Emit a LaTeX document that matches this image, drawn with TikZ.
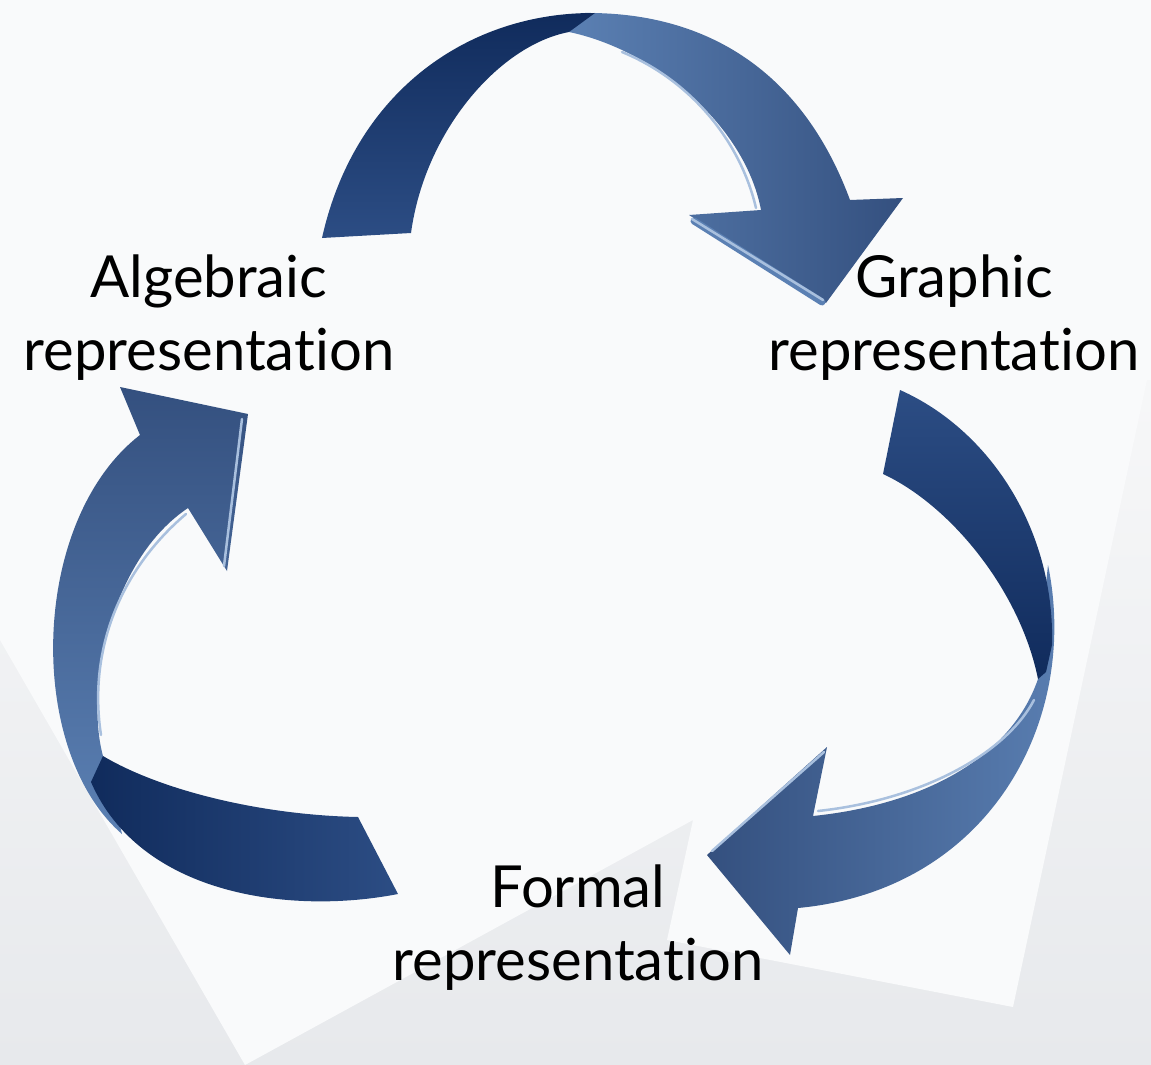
\documentclass[tikz,border=0pt]{standalone}
\usepackage{fontspec}
\setmainfont[Ligatures={NoCommon}]{Lato}
\usepackage{tikz}

\definecolor{ribbondark}{HTML}{102B5C}
\definecolor{ribbonmid}{HTML}{2C4D84}
\definecolor{ribbonlight}{HTML}{5B80B3}
\definecolor{ribbonhead}{HTML}{34507F}
\definecolor{ribbonshine}{HTML}{A9C0DE}
\definecolor{paper}{HTML}{F9FAFB}
\definecolor{papergray}{HTML}{E7E9EC}

\begin{document}
\begin{tikzpicture}[x=1pt,y=-1pt,
  reptext/.style={align=center,font=\fontsize{58}{73}\selectfont,inner sep=0pt},
  shine/.style={draw=ribbonshine,line width=2.5pt,line cap=round},
  sideface/.style={draw=ribbonlight,line width=7pt,line cap=round}]
\useasboundingbox (0,0) rectangle (1151,1065);
% background sheets
\shade[top color=white,bottom color=papergray] (0,0) rectangle (1151,1065);
\fill[paper] (0,0) -- (1151,0) -- (1151,380) -- (1147,380) -- (1013,1007) -- (667,940)
  -- (693,820) -- (245,1065) -- (0,640) -- cycle;

% top arrow
\shade[left color=ribbonlight,right color=ribbonhead]
  (585,13) .. controls (700,12) and (800,65) .. (850,200)
  -- (903,198) -- (826,303) -- (689,215) -- (761,210)
  .. controls (745,125) and (655,50) .. (569,32) -- cycle;
\shade[top color=ribbondark,bottom color=ribbonmid]
  (322,238) .. controls (355,90) and (470,12) .. (595,13)
  -- (569,32) .. controls (500,45) and (425,130) .. (411,233) -- cycle;
\draw[shine] (622,52) .. controls (690,80) and (740,140) .. (756,208);
\draw[sideface] (694,221) -- (822,302);
\draw[shine] (692,219) -- (823,300);

% right arrow
\shade[left color=ribbonhead,right color=ribbonlight]
  (1048,565) .. controls (1080,720) and (990,890) .. (798,908)
  -- (790,955) -- (707,855) -- (827,747) -- (813,816)
  .. controls (920,805) and (1010,760) .. (1038,679) -- (1040,640) -- cycle;
\shade[top color=ribbonmid,bottom color=ribbondark]
  (900,390) .. controls (990,430) and (1055,530) .. (1052,645)
  -- (1046,672) -- (1038,679)
  .. controls (1020,590) and (950,505) .. (883,474) -- cycle;
\draw[shine] (1034,700) .. controls (1005,755) and (920,800) .. (818,811);
\draw[shine] (712,851) -- (824,752);

% left arrow
\shade[top color=ribbonhead,bottom color=ribbonlight]
  (122,834) .. controls (25,750) and (30,520) .. (140,435)
  -- (120,387) -- (248,414) -- (227,571) -- (188,508)
  .. controls (110,560) and (85,690) .. (103,756) -- cycle;
\shade[left color=ribbondark,right color=ribbonmid]
  (398,894) .. controls (290,915) and (140,895) .. (91,782)
  -- (103,756) .. controls (160,790) and (260,815) .. (358,817) -- cycle;
\draw[shine] (101,735) .. controls (88,650) and (120,570) .. (186,514);
\draw[shine] (242,419) -- (224,566);

% labels
\node[reptext] (alg) at (209,318) {Algebraic\\representation};
\node[reptext] (gra) at (954,318) {Graphic\\representation};
\node[reptext] (frm) at (578,928) {Formal\\representation};
\end{tikzpicture}
\end{document}
